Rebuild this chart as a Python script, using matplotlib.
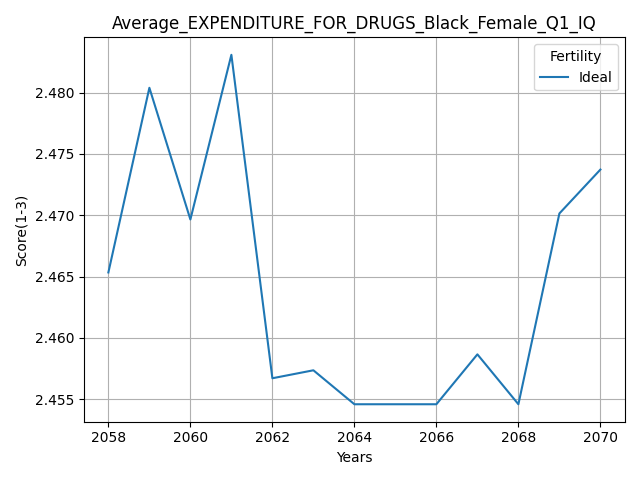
import matplotlib
matplotlib.use('Agg')
import matplotlib.pyplot as plt

years = [2058, 2059, 2060, 2061, 2062, 2063, 2064, 2065, 2066, 2067, 2068, 2069, 2070]
ideal = [2.46534, 2.48040, 2.46966, 2.48309, 2.45671, 2.45736, 2.45459,
         2.45459, 2.45459, 2.45866, 2.45459, 2.47015, 2.47373]

fig, ax = plt.subplots(figsize=(6.4, 4.8), dpi=100)
ax.plot(years, ideal, label='Ideal')
ax.set_title('Average_EXPENDITURE_FOR_DRUGS_Black_Female_Q1_IQ')
ax.set_xlabel('Years')
ax.set_ylabel('Score(1-3)')
ax.set_xticks(range(2058, 2071, 2))
ax.grid(True)
ax.legend(title='Fertility')
fig.tight_layout()
fig.savefig('out.png')
